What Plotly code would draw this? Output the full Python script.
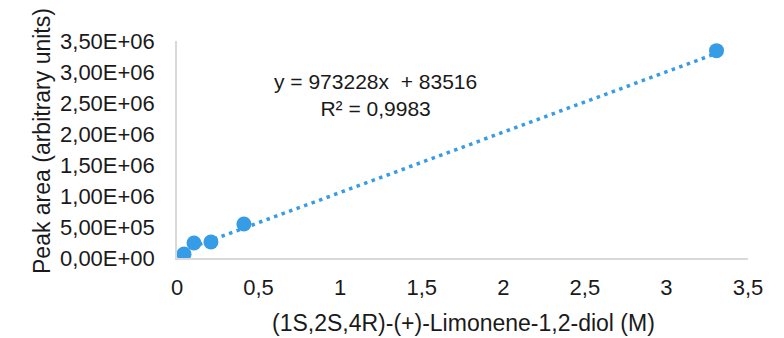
import plotly.graph_objects as go

# data
conc_M = [0.043, 0.104, 0.208, 0.41, 3.307]
peak_area = [65000, 242000, 258000, 549000, 3344000]
slope = 973228
intercept = 83516
equation_text = "y = 973228x  + 83516<br>R² = 0,9983"
x_tick_vals = [0, 0.5, 1, 1.5, 2, 2.5, 3, 3.5]
x_tick_text = ["0", "0,5", "1", "1,5", "2", "2,5", "3", "3,5"]
y_tick_vals = [0, 500000, 1000000, 1500000, 2000000, 2500000, 3000000, 3500000]
y_tick_text = ["0,00E+00", "5,00E+05", "1,00E+06", "1,50E+06", "2,00E+06",
               "2,50E+06", "3,00E+06", "3,50E+06"]
x_title = "(1S,2S,4R)-(+)-Limonene-1,2-diol (M)"
y_title = "Peak area (arbitrary units)"

BLUE = "#379CE6"
FONT = "Liberation Sans"
TXT = "#1a1a1a"

fit_x = [min(conc_M), max(conc_M)]
fit_y = [slope * v + intercept for v in fit_x]

PW = 748 - 177
PH = 258 - 41

fig = go.Figure()
fig.add_trace(go.Scatter(
    x=fit_x, y=fit_y, mode="lines",
    line=dict(color=BLUE, width=3.5, dash="3.5px,4.5px"),
    hoverinfo="skip", showlegend=False))
fig.add_trace(go.Scatter(
    x=conc_M, y=peak_area, mode="markers",
    marker=dict(color=BLUE, size=15, line=dict(width=0)),
    showlegend=False))

fig.update_layout(
    width=784, height=338,
    margin=dict(l=177, r=36, t=41, b=80),
    paper_bgcolor="white", plot_bgcolor="white",
    font=dict(family=FONT, size=22, color=TXT),
    xaxis=dict(range=[0, 3.5], tickvals=x_tick_vals, ticktext=x_tick_text,
               showgrid=False, zeroline=False, showline=True,
               linecolor="#D9D9D9", linewidth=1.5,
               ticks="outside", ticklen=9, tickcolor="rgba(0,0,0,0)",
               tickfont=dict(size=22)),
    yaxis=dict(range=[0, 3.5e6], tickvals=y_tick_vals, ticktext=y_tick_text,
               showgrid=False, zeroline=False, showline=True,
               linecolor="#D9D9D9", linewidth=1.5,
               ticks="outside", ticklen=16, tickcolor="rgba(0,0,0,0)",
               tickfont=dict(size=22)),
    annotations=[
        dict(text=equation_text, xref="paper", yref="paper",
             x=(375 - 177) / PW, y=1 - (95 - 41) / PH,
             showarrow=False, align="center", font=dict(size=21),
             xanchor="center", yanchor="middle"),
        dict(text=x_title, xref="paper", yref="paper",
             x=(463 - 177) / PW, y=-(337 - 258) / PH, showarrow=False,
             xanchor="center", yanchor="bottom", font=dict(size=23),
             borderpad=0),
        dict(text=y_title, xref="paper", yref="paper",
             x=-(177 - 42) / PW, y=1 - (141 - 41) / PH, showarrow=False,
             textangle=-90, xanchor="center", yanchor="middle",
             font=dict(size=23)),
    ],
)

fig.write_html("out.html")
